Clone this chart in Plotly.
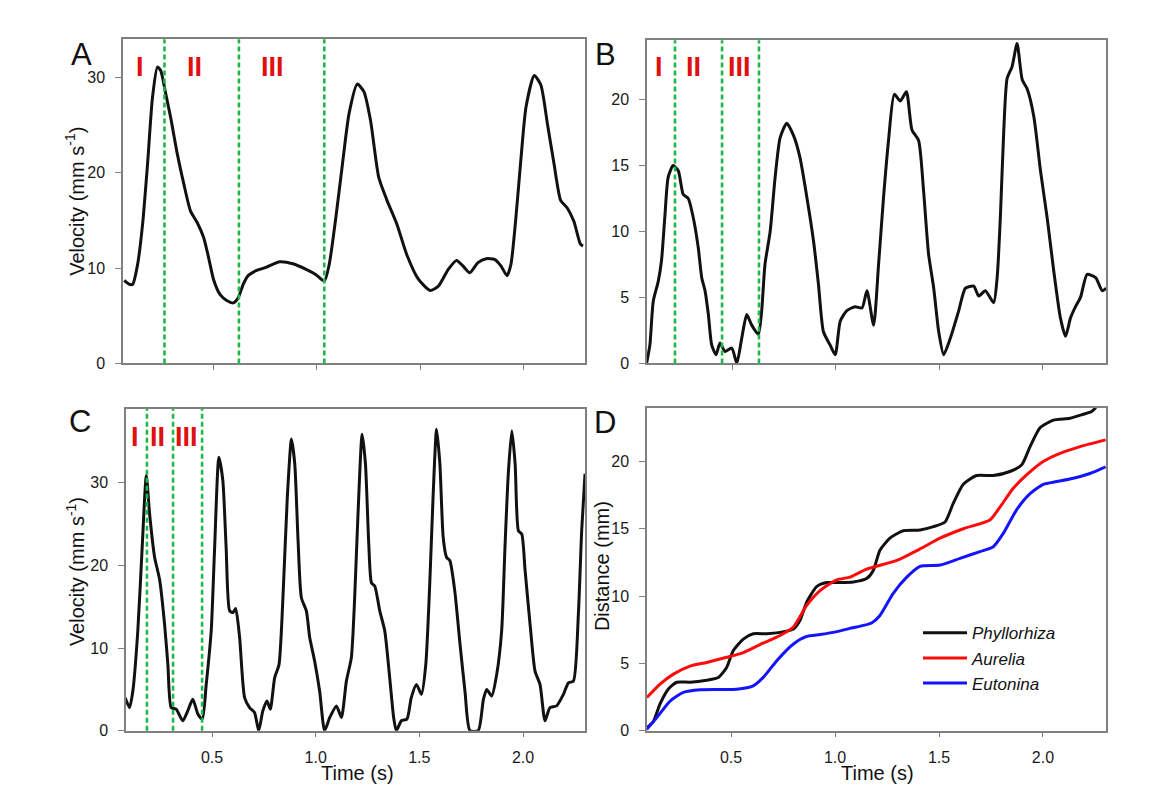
import plotly.graph_objects as go

# ---------------- data ----------------
# Panel A (Phyllorhiza velocity)
a_t = [0.066,0.09,0.107,0.131,0.155,0.179,0.203,0.227,0.243,0.267,
       0.291,0.323,0.355,0.387,0.419,0.451,0.475,0.499,0.531,0.563,
       0.595,0.619,0.643,0.667,0.708,0.756,0.82,0.884,0.948,0.996,
       1.036,1.06,1.092,1.124,1.156,1.196,1.228,1.26,1.30,1.34,
       1.388,1.436,1.493,1.549,1.589,1.637,1.677,1.709,1.741,1.781,
       1.821,1.861,1.893,1.922,1.941,1.965,1.99,2.014,2.054,2.086,
       2.118,2.15,2.182,2.214,2.246,2.278,2.29]
a_v = [8.7,8.3,8.3,10.4,14.6,20.9,27.9,31.1,30.7,28.3,
       25.8,22.0,18.8,16.0,14.8,13.2,11.1,8.8,7.2,6.6,
       6.35,6.9,8.3,9.2,9.75,10.1,10.66,10.45,9.86,9.3,
       8.63,10.4,15.3,20.9,26.2,29.3,28.5,25.5,19.5,17.1,
       14.6,11.4,8.8,7.65,8.1,9.86,10.8,10.2,9.5,10.56,
       10.98,10.9,10.2,9.2,10.4,15.3,21.6,26.9,30.2,29.2,
       25.1,20.9,17.1,16.3,14.9,12.5,12.3]

# Panel B (Aurelia velocity)
b_t = [0.088,0.104,0.12,0.144,0.16,0.176,0.192,0.216,0.241,0.265,
       0.289,0.313,0.337,0.354,0.37,0.386,0.402,0.423,0.442,0.466,
       0.499,0.523,0.547,0.571,0.595,0.627,0.643,0.659,0.684,0.708,
       0.732,0.764,0.796,0.828,0.861,0.893,0.917,0.941,0.973,0.998,
       1.022,1.054,1.094,1.127,1.151,1.183,1.207,1.231,1.255,1.283,
       1.312,1.341,1.368,1.40,1.424,1.448,1.473,1.497,1.521,1.553,
       1.593,1.626,1.666,1.69,1.722,1.762,1.779,1.795,1.811,1.827,
       1.851,1.875,1.9,1.924,1.956,1.988,2.02,2.052,2.084,2.109,
       2.133,2.157,2.181,2.213,2.254,2.286,2.305]
b_v = [0,1.4,4.7,6.2,7.8,11.1,14.1,15.0,14.6,12.8,
       12.5,11.06,8.8,6.5,5.5,3.7,1.4,0.66,1.55,0.9,
       1.16,0,1.9,3.7,2.9,2.2,3.96,7.5,10.0,14.1,
       17.1,18.2,17.3,15.6,12.6,9.3,6.0,2.4,1.4,0.66,
       3.2,4.0,4.3,4.2,5.5,2.9,7.5,12.6,16.9,20.4,
       19.9,20.6,17.7,16.9,13.1,8.3,5.7,2.4,0.66,1.9,
       3.96,5.7,5.86,5.1,5.5,4.6,6.5,11.3,17.7,21.6,
       22.5,24.25,21.5,20.8,18.7,14.6,11.06,7.0,3.45,2.05,
       3.45,4.3,5.0,6.75,6.5,5.5,5.7]

# Panel C (Eutonina velocity)
c_t = [0.081,0.102,0.118,0.142,0.163,0.183,0.199,0.223,0.247,0.271,
       0.287,0.303,0.327,0.359,0.383,0.407,0.432,0.453,0.472,0.496,
       0.512,0.533,0.552,0.568,0.585,0.601,0.614,0.633,0.657,0.681,
       0.705,0.725,0.745,0.765,0.781,0.802,0.823,0.842,0.863,0.883,
       0.899,0.915,0.931,0.955,0.971,0.995,1.019,1.043,1.068,1.1,
       1.124,1.148,1.172,1.188,1.204,1.224,1.24,1.256,1.269,1.285,
       1.309,1.333,1.357,1.376,1.389,1.413,1.44,1.461,1.486,1.51,
       1.531,1.55,1.566,1.583,1.599,1.615,1.631,1.647,1.671,1.696,
       1.72,1.744,1.784,1.809,1.825,1.849,1.873,1.897,1.913,1.929,
       1.946,1.962,1.978,1.994,2.01,2.034,2.058,2.082,2.106,2.13,
       2.162,2.195,2.219,2.243,2.267,2.283,2.299]
c_v = [4.0,2.8,4.8,12.1,22.2,30.9,26.2,21.0,18.3,12.9,
       8.0,2.8,2.6,1.2,2.4,3.8,2.0,1.4,5.6,12.1,
       21.8,33.1,30.3,22.2,14.5,14.3,14.8,11.3,4.0,2.8,
       2.2,0,2.4,3.6,2.6,6.4,8.0,16.1,28.2,35.3,
       32.3,23.0,16.1,14.5,11.3,8.4,4.8,0,1.6,3.0,
       1.6,6.0,8.85,16.1,26.2,35.9,32.3,22.6,17.9,17.5,
       14.5,12.1,6.4,1.6,0,1.2,1.4,4.0,5.6,4.4,
       8.0,17.7,28.2,36.5,32.3,23.4,21.0,20.6,16.9,10.5,
       4.8,0,0,3.8,5.0,4.2,6.8,12.1,22.2,31.1,
       36.3,32.3,24.2,23.8,19.4,12.9,7.2,5.6,1.2,2.8,
       3.0,4.4,5.8,6.0,14.1,24.2,31.1]

# Panel D (distance)
d_t_black = [0.095,0.127,0.159,0.199,0.239,0.303,0.383,0.439,0.479,0.511,
             0.559,0.607,0.672,0.736,0.8,0.832,0.864,0.912,0.96,1.024,
             1.088,1.152,1.184,1.216,1.264,1.328,1.409,1.473,1.529,1.569,
             1.617,1.681,1.761,1.841,1.898,1.938,1.986,2.05,2.13,2.194,
             2.234,2.258,2.275]
d_black = [0.2,0.7,2.0,3.1,3.6,3.6,3.75,3.95,4.7,5.95,
           6.8,7.2,7.2,7.3,7.55,8.2,9.55,10.7,11.0,11.0,
           11.05,11.3,11.9,13.4,14.3,14.85,14.9,15.15,15.5,16.9,
           18.3,18.95,18.95,19.25,19.75,21.1,22.5,23.06,23.2,23.5,
           23.7,24.1,24.6]
d_t_red = [0.095,0.159,0.223,0.303,0.383,0.479,0.559,0.639,0.736,0.8,
           0.864,0.928,1.008,1.072,1.152,1.297,1.409,1.505,1.617,1.745,
           1.793,1.857,1.921,2.001,2.082,2.178,2.301]
d_red = [2.46,3.46,4.2,4.8,5.07,5.45,5.8,6.4,7.07,7.7,
         9.3,10.4,11.2,11.4,12.0,12.65,13.5,14.3,15.0,15.65,
         16.6,18.0,19.0,20.0,20.6,21.1,21.6]
d_t_blue = [0.095,0.143,0.207,0.271,0.351,0.447,0.527,0.607,0.655,0.72,
            0.8,0.864,0.928,0.992,1.072,1.104,1.176,1.216,1.28,1.345,
            1.409,1.505,1.601,1.697,1.761,1.809,1.873,1.938,2.002,2.066,
            2.146,2.226,2.301]
d_blue = [0.1,0.97,2.2,2.84,3.04,3.06,3.08,3.33,3.96,5.2,
          6.44,7.0,7.14,7.3,7.6,7.7,8.0,8.56,10.2,11.4,
          12.2,12.3,12.8,13.3,13.66,14.65,16.4,17.6,18.3,18.5,
          18.75,19.1,19.6]

species = ["Phyllorhiza", "Aurelia", "Eutonina"]

# phase boundaries (s) and phase labels
phase_a = [0.261, 0.622, 1.036]
phase_b = [0.225, 0.452, 0.630]
phase_c = [0.186, 0.312, 0.452]
phase_labels = ["I", "II", "III"]
label_x_a = [0.14, 0.407, 0.787]
label_x_b = [0.148, 0.312, 0.534]
label_x_c = [0.129, 0.235, 0.375]

x_ticks = [0.5, 1.0, 1.5, 2.0]
x_ticklabels = ["0.5", "1.0", "1.5", "2.0"]

vel_title = "Velocity (mm s<sup>-1</sup>)"
dist_title = "Distance (mm)"
time_title = "Time (s)"

# ---------------- figure ----------------
FONT = "Liberation Sans, Arial, sans-serif"
W, H = 1163, 812
OFF = 8        # page body margin
VS = 0.9854    # vertical scale of the captured page
AX = "#808080"
GREEN = "#1fb848"
RED = "#e01010"

fig = go.Figure()
line_k = dict(color="#111111", width=3, shape="spline", smoothing=0.6)

fig.add_trace(go.Scatter(x=a_t, y=a_v, mode="lines", line=line_k, xaxis="x", yaxis="y", showlegend=False))
fig.add_trace(go.Scatter(x=b_t, y=b_v, mode="lines", line=line_k, xaxis="x2", yaxis="y2", showlegend=False))
fig.add_trace(go.Scatter(x=c_t, y=c_v, mode="lines", line=line_k, xaxis="x3", yaxis="y3", showlegend=False))
fig.add_trace(go.Scatter(x=d_t_black, y=d_black, mode="lines", name=species[0],
                         line=dict(color="#111111", width=3, shape="spline", smoothing=0.6), xaxis="x4", yaxis="y4"))
fig.add_trace(go.Scatter(x=d_t_red, y=d_red, mode="lines", name=species[1],
                         line=dict(color="#ff0a0a", width=3, shape="spline", smoothing=0.6), xaxis="x4", yaxis="y4"))
fig.add_trace(go.Scatter(x=d_t_blue, y=d_blue, mode="lines", name=species[2],
                         line=dict(color="#1414ff", width=3, shape="spline", smoothing=0.6), xaxis="x4", yaxis="y4"))


def px_x(p):
    return (p - OFF) / W


def px_y(p):
    return 1 - (p / VS - OFF) / H


def xax(dom, rng, anchor, labels):
    return dict(domain=dom, range=rng, anchor=anchor, showline=True, mirror=True,
                linecolor=AX, linewidth=1.5, ticks="outside", ticklen=5, tickwidth=1.2,
                tickcolor=AX, showgrid=False, zeroline=False,
                tickvals=x_ticks, ticktext=x_ticklabels, showticklabels=labels,
                tickfont=dict(family=FONT, size=16, color="#1a1a1a"),
                ticklabelstandoff=6)


def yax(dom, rng, anchor, dtick):
    return dict(domain=dom, range=rng, anchor=anchor, showline=True, mirror=True,
                linecolor=AX, linewidth=1.5, ticks="outside", ticklen=6, tickwidth=1.2,
                tickcolor=AX, showgrid=False, zeroline=False, dtick=dtick, tick0=0,
                tickfont=dict(family=FONT, size=16, color="#1a1a1a"),
                ticklabelstandoff=7)


fig.update_layout(
    width=W, height=H, margin=dict(l=0, r=0, t=0, b=0),
    paper_bgcolor="white", plot_bgcolor="white",
    font=dict(family=FONT, color="#111"),
    xaxis=xax([px_x(123), px_x(585)], [0.06, 2.30], "y", False),
    yaxis=yax([px_y(362), px_y(39)], [0, 34], "x", 10),
    xaxis2=xax([px_x(647), px_x(1106)], [0.09, 2.304], "y2", False),
    yaxis2=yax([px_y(362), px_y(40)], [0, 24.5], "x2", 5),
    xaxis3=xax([px_x(126), px_x(585)], [0.085, 2.299], "y3", True),
    yaxis3=yax([px_y(728), px_y(407)], [0, 39], "x3", 10),
    xaxis4=xax([px_x(647), px_x(1106)], [0.096, 2.303], "y4", True),
    yaxis4=yax([px_y(728), px_y(406)], [0, 24], "x4", 5),
    legend=dict(x=px_x(918), y=px_y(613), xanchor="left", yanchor="top",
                bgcolor="rgba(0,0,0,0)", borderwidth=0,
                font=dict(family=FONT, size=17, style="italic", color="#111"),
                itemwidth=44, tracegroupgap=0),
)

shapes = []
for xs, xr, yr in [(phase_a, "x", "y"), (phase_b, "x2", "y2"), (phase_c, "x3", "y3")]:
    for xv in xs:
        shapes.append(dict(type="line", xref=xr, yref=yr + " domain", x0=xv, x1=xv, y0=0, y1=1,
                           line=dict(color=GREEN, width=2.6, dash="5px,3px")))
fig.update_layout(shapes=shapes)

ann = []
for lx, xr, yr, yv in [(label_x_a, "x", "y", 31.05), (label_x_b, "x2", "y2", 22.45), (label_x_c, "x3", "y3", 35.6)]:
    for xv, txt in zip(lx, phase_labels):
        ann.append(dict(x=xv, y=yv, xref=xr, yref=yr, text="<b>%s</b>" % txt, showarrow=False,
                        font=dict(family=FONT, size=27, color=RED), xanchor="center", yanchor="middle"))
for letter, x, y in [("A", 81, 54), ("B", 605, 54), ("C", 80, 420), ("D", 605, 421)]:
    ann.append(dict(x=px_x(x), y=px_y(y), xref="paper", yref="paper", text=letter, showarrow=False,
                    font=dict(family=FONT, size=31, color="#111"), xanchor="center", yanchor="middle"))
# axis titles
for txt, x, y, ang in [(vel_title, 75, 201, -90), (vel_title, 75, 570, -90), (dist_title, 602, 564, -90),
                       (time_title, 357, 770, 0), (time_title, 877, 770, 0)]:
    ann.append(dict(x=px_x(x), y=px_y(y), xref="paper", yref="paper", text=txt, showarrow=False,
                    textangle=ang, font=dict(family=FONT, size=20, color="#111"),
                    xanchor="center", yanchor="middle"))
fig.update_layout(annotations=ann)

fig.write_html("out.html")
